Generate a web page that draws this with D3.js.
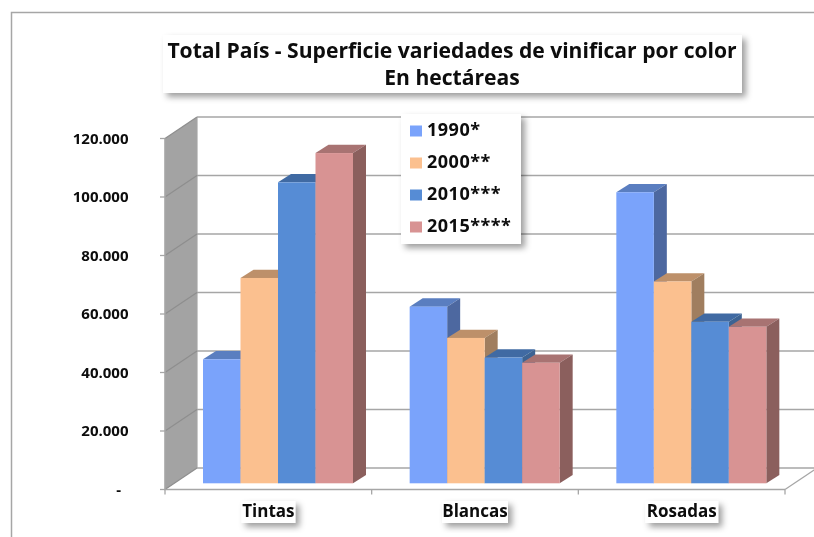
<!DOCTYPE html>
<html><head><meta charset="utf-8">
<style>html,body{margin:0;padding:0;background:#fff}svg{display:block}text{font-family:"Open Sans",sans-serif;font-weight:700;fill:#0a0a0a}</style>
<script src="https://cdn.jsdelivr.net/npm/d3@7/dist/d3.min.js"></script>
</head><body><div id="c"></div>
<script>
const titleLines = ["Total País - Superficie variedades de vinificar por color","En hectáreas"];
const categories = ["Tintas","Blancas","Rosadas"];
const seriesNames = ["1990*","2000**","2010***","2015****"];
const s1990 = [42400,60400,99500];
const s2000 = [70200,49700,69000];
const s2010 = [102900,43000,55200];
const s2015 = [112900,41200,53500];
const yTicks = [0,20000,40000,60000,80000,100000,120000];
const faceColors = ["#7aa3fb","#fbc08f","#568cd5","#d89393"];
const topColors  = ["#5a7ec0","#bd906a","#3f6ba3","#a87372"];
const sideColors = ["#4d68a0","#a07e5e","#3d6493","#8b5e5d"];
const series = [s1990,s2000,s2010,s2015];

const W=814,H=537;
const svg=d3.select("#c").append("svg").attr("width",W).attr("height",H);
const defs=svg.append("defs");
const shadow=defs.append("filter").attr("id","sh").attr("x","-15%").attr("y","-25%").attr("width","135%").attr("height","170%");
shadow.append("feDropShadow").attr("dx",4).attr("dy",4).attr("stdDeviation",3).attr("flood-color","#000").attr("flood-opacity",0.38);
const soft=defs.append("filter").attr("id","soft").attr("x","0").attr("y","0").attr("width","100%").attr("height","100%");
soft.append("feGaussianBlur").attr("stdDeviation",0.45);

const left=165,right=785,floorY=489.5,topY=138.5,dx=32,dy=21.5;
const y=d3.scaleLinear().domain([0,120000]).range([floorY,topY]);
const x=d3.scaleBand().domain(categories).range([left,right]);
const inner=d3.scaleBand().domain(seriesNames).range([0,150]);
const barShiftX=38,barShiftY=-6.2,bdx=13,bdy=8.3;
const gridColor="#a6a6a6";

const root=svg.append("g").attr("filter","url(#soft)");
root.append("rect").attr("width",W).attr("height",H).attr("fill","#fff");
root.append("path").attr("d",`M11.5,${H+4}V12.5H${W+4}`).attr("fill","none").attr("stroke","#a6a6a6").attr("stroke-width",1.5);
root.append("g").selectAll("line").data(yTicks).join("line")
 .attr("x1",left+dx).attr("x2",W+4)
 .attr("y1",d=>y(d)-dy).attr("y2",d=>y(d)-dy)
 .attr("stroke",gridColor).attr("stroke-width",1.6);
root.append("polygon")
 .attr("points",[[left,y(0)],[left+dx,y(0)-dy],[left+dx,y(120000)-dy],[left,y(120000)]].join(" "))
 .attr("fill","#a3a3a3");
root.append("line").attr("x1",left+dx).attr("x2",left+dx).attr("y1",y(120000)-dy).attr("y2",y(0)-dy).attr("stroke",gridColor).attr("stroke-width",1.2);
root.append("g").selectAll("line").data(yTicks).join("line")
 .attr("x1",left).attr("x2",left+dx)
 .attr("y1",d=>y(d)).attr("y2",d=>y(d)-dy)
 .attr("stroke","#8e8e8e").attr("stroke-width",1.2);
root.append("line").attr("x1",right).attr("y1",floorY).attr("x2",right+dx).attr("y2",floorY-dy).attr("stroke",gridColor).attr("stroke-width",1.3);
root.append("path").attr("d",`M${left},${topY}V${floorY}H${right}`).attr("fill","none").attr("stroke",gridColor).attr("stroke-width",1.6);
root.append("g").selectAll("line").data(yTicks).join("line")
 .attr("x1",left-5).attr("x2",left).attr("y1",d=>y(d)).attr("y2",d=>y(d))
 .attr("stroke",gridColor).attr("stroke-width",1.3);
root.append("g").selectAll("line").data([left,...categories.map(c=>x(c)+x.bandwidth())]).join("line")
 .attr("x1",d=>d).attr("x2",d=>d).attr("y1",floorY).attr("y2",floorY+5)
 .attr("stroke",gridColor).attr("stroke-width",1.3);

categories.forEach((c,ci)=>{
  const g=root.append("g");
  seriesNames.forEach((s,si)=>{
    const v=series[si][ci];
    const x0=x(c)+barShiftX+inner(s), x1=x0+inner.bandwidth();
    const y0=y(v)+barShiftY, yb=y(0)+barShiftY;
    g.append("polygon").attr("points",[[x0,y0],[x0+bdx,y0-bdy],[x1+bdx,y0-bdy],[x1,y0]].join(" ")).attr("fill",topColors[si]);
    g.append("polygon").attr("points",[[x1,y0],[x1+bdx,y0-bdy],[x1+bdx,yb-bdy],[x1,yb]].join(" ")).attr("fill",sideColors[si]);
    g.append("rect").attr("x",x0).attr("y",y0).attr("width",inner.bandwidth()).attr("height",yb-y0).attr("fill",faceColors[si]);
  });
});

const fmt=d=>d===0?"-":d3.format(",")(d).replace(/,/g,".");
root.append("g").selectAll("text").data(yTicks).join("text")
 .attr("x",d=>d===0?121:128.5).attr("y",d=>y(d)+1).attr("text-anchor","end").attr("dominant-baseline","middle")
 .attr("font-size",15).text(fmt);

const labelBoxes=[54,66,73];
categories.forEach((c,i)=>{
  const cx=x(c)+x.bandwidth()/2;
  const bw=labelBoxes[i];
  root.append("rect").attr("x",cx-bw/2).attr("y",501).attr("width",bw).attr("height",22).attr("fill","#fff").attr("filter","url(#sh)");
  root.append("text").attr("x",cx).attr("y",512).attr("text-anchor","middle").attr("dominant-baseline","middle").attr("font-size",17).text(c);
});

root.append("rect").attr("x",163).attr("y",35).attr("width",579).attr("height",58).attr("fill","#fff").attr("filter","url(#sh)");
root.selectAll(".t").data(titleLines).join("text").attr("class","t")
 .attr("x",452).attr("y",(d,i)=>52+i*27.5).attr("text-anchor","middle").attr("dominant-baseline","middle")
 .attr("font-size",21.1).text(d=>d);

root.append("rect").attr("x",401).attr("y",114).attr("width",120).attr("height",130).attr("fill","#fff").attr("filter","url(#sh)");
const legendY=d3.scalePoint().domain(seriesNames).range([131,227]);
const lg=root.append("g").selectAll("g").data(seriesNames).join("g").attr("transform",d=>`translate(0,${legendY(d)})`);
lg.append("rect").attr("x",410).attr("y",-5.5).attr("width",12).attr("height",11).attr("fill",(d,i)=>faceColors[i]);
lg.append("text").attr("x",427).attr("y",0).attr("dominant-baseline","middle").attr("font-size",18).attr("letter-spacing",0.5).text(d=>d);
</script></body></html>
